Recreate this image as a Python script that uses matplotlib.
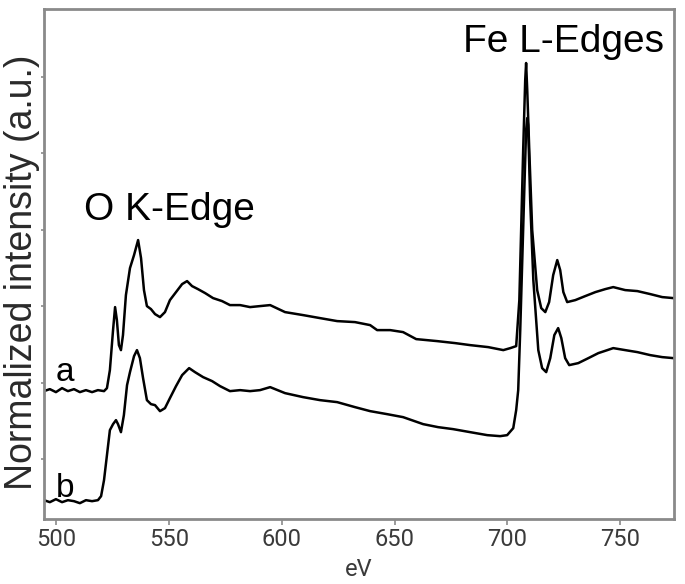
import numpy as np
import matplotlib
matplotlib.use("Agg")
import matplotlib.pyplot as plt

# spectrum a (upper) - energy loss (eV) and normalized intensity
ev_a = [494.7, 497.3, 500.0, 502.7, 505.3, 508.0, 510.6, 513.3, 516.0, 518.6,
        521.3, 522.6, 523.9, 525.3, 526.2, 527.0, 527.9, 528.8, 529.7, 531.0,
        532.8, 534.6, 536.4, 537.7, 539.0, 540.3, 542.1, 543.9, 546.1, 548.3,
        550.5, 553.2, 555.9, 558.1, 560.3, 562.9, 566.1, 569.6, 573.6, 577.1,
        581.6, 586.0, 590.4, 594.9, 601.5, 609.5, 617.0, 624.6, 632.5, 639.2,
        642.3, 648.1, 653.8, 659.6, 668.9, 676.9, 683.5, 691.5, 698.2, 701.3,
        703.9, 705.3, 706.1, 707.0, 707.9, 708.3, 708.8, 709.7, 711.0, 713.2,
        715.0, 716.8, 718.5, 720.3, 722.1, 723.4, 724.8, 726.5, 730.1, 734.5,
        739.0, 743.4, 746.9, 752.2, 757.6, 763.3, 768.6, 773.5]
int_a = [1.28, 1.30, 1.27, 1.31, 1.28, 1.30, 1.27, 1.29, 1.27, 1.29,
         1.28, 1.31, 1.49, 1.89, 2.12, 1.99, 1.74, 1.69, 1.84, 2.24,
         2.51, 2.64, 2.79, 2.61, 2.29, 2.13, 2.10, 2.05, 2.02, 2.07,
         2.19, 2.27, 2.35, 2.38, 2.33, 2.30, 2.26, 2.21, 2.18, 2.14,
         2.14, 2.12, 2.13, 2.14, 2.07, 2.04, 2.01, 1.98, 1.97, 1.94,
         1.89, 1.89, 1.87, 1.80, 1.78, 1.76, 1.74, 1.72, 1.69, 1.71,
         1.73, 2.19, 2.89, 3.69, 4.39, 4.56, 4.29, 3.69, 2.89, 2.29,
         2.11, 2.07, 2.17, 2.44, 2.59, 2.49, 2.27, 2.17, 2.19, 2.23,
         2.27, 2.30, 2.32, 2.29, 2.28, 2.25, 2.22, 2.21]

# spectrum b (lower)
ev_b = [494.7, 497.3, 500.0, 502.7, 505.3, 508.0, 510.6, 513.3, 516.0, 518.6,
        520.0, 521.3, 522.6, 523.9, 525.3, 526.6, 527.5, 528.8, 530.1, 531.5,
        532.8, 534.6, 535.9, 537.2, 538.6, 540.3, 542.1, 543.9, 546.1, 548.3,
        550.5, 553.2, 555.9, 559.0, 561.6, 565.2, 569.2, 572.7, 577.1, 581.6,
        586.0, 590.4, 594.9, 601.5, 609.5, 617.0, 624.6, 632.5, 639.2, 646.7,
        653.8, 662.7, 669.3, 676.0, 683.5, 691.1, 696.8, 699.9, 702.6, 703.9,
        704.8, 705.7, 706.6, 707.5, 708.3, 708.8, 709.2, 710.1, 711.5, 713.7,
        715.4, 717.2, 719.0, 720.8, 722.5, 723.9, 725.6, 727.4, 731.4, 735.9,
        740.3, 744.3, 746.9, 752.2, 757.6, 763.3, 768.6, 773.5]
int_b = [0.19, 0.17, 0.20, 0.17, 0.19, 0.18, 0.16, 0.19, 0.18, 0.19,
         0.23, 0.39, 0.64, 0.89, 0.95, 0.99, 0.95, 0.87, 1.04, 1.34,
         1.47, 1.63, 1.69, 1.61, 1.41, 1.19, 1.15, 1.14, 1.08, 1.11,
         1.21, 1.33, 1.44, 1.51, 1.47, 1.42, 1.38, 1.33, 1.28, 1.29,
         1.28, 1.29, 1.32, 1.26, 1.22, 1.19, 1.17, 1.12, 1.08, 1.05,
         1.02, 0.95, 0.92, 0.90, 0.87, 0.84, 0.83, 0.84, 0.91, 1.09,
         1.29, 1.89, 2.59, 3.29, 3.89, 4.01, 3.94, 3.19, 2.39, 1.69,
         1.51, 1.47, 1.61, 1.84, 1.91, 1.81, 1.61, 1.54, 1.56, 1.61,
         1.66, 1.69, 1.71, 1.69, 1.67, 1.64, 1.62, 1.61]

x_ticks = [500, 550, 600, 650, 700, 750]
y_ticks = [0.60, 1.36, 2.13, 2.89, 3.66, 4.42]

fig = plt.figure(figsize=(6.85, 5.84), dpi=100)
ax = fig.add_axes([0.0642, 0.111, 0.92, 0.8736])

ax.plot(ev_a, int_a, color='black', lw=1.8)
ax.plot(ev_b, int_b, color='black', lw=1.8)

ax.set_xlim(494.7, 773.9)
ax.set_ylim(0, 5.10)
ax.set_xticks(x_ticks)
ax.set_yticks(y_ticks)
ax.set_yticklabels([])
for s in ax.spines.values():
    s.set_color('#8a8a8a')
    s.set_linewidth(2)
ax.tick_params(axis='x', colors='#8a8a8a', length=4, width=1.2, labelsize=17,
               labelcolor='#3a3a3a', pad=2)
ax.tick_params(axis='y', colors='#8a8a8a', length=2, width=1.2)
for lab in ax.get_xticklabels():
    lab.set_family('Roboto')

fig.text(0.523, 0.024, 'eV', ha='center', va='center', fontsize=17,
         color='#3a3a3a', family='Roboto')
fig.text(0.032, 0.534, 'Normalized intensity (a.u.)', rotation=90, ha='center',
         va='center', fontsize=27, color='#2a2a2a', family='Liberation Sans')

ax.text(550.5, 3.09, 'O K-Edge', fontsize=28, ha='center', va='center',
        family='Liberation Sans')
ax.text(725, 4.77, 'Fe L-Edges', fontsize=28, ha='center', va='center',
        family='Liberation Sans')
ax.text(504, 1.47, 'a', fontsize=24, ha='center', va='center',
        family='Liberation Sans')
ax.text(504, 0.31, 'b', fontsize=24, ha='center', va='center',
        family='Liberation Sans')

fig.savefig('out.png', dpi=100)
